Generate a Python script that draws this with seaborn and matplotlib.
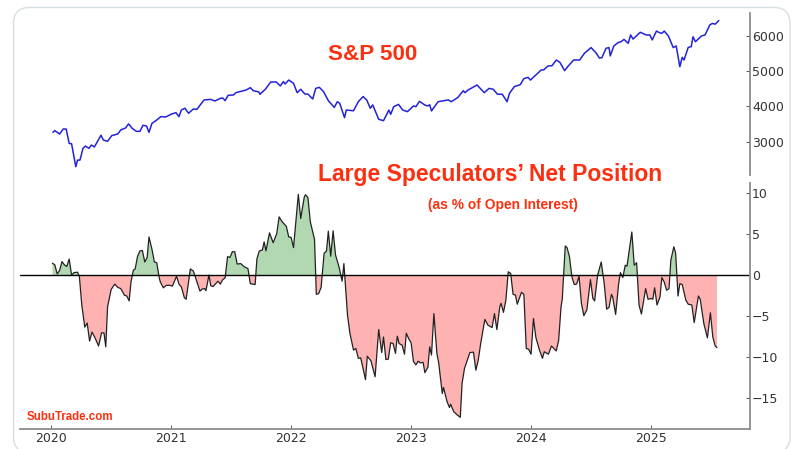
import numpy as np
import matplotlib.pyplot as plt
import seaborn as sns
from matplotlib.patches import FancyBboxPatch
from matplotlib.transforms import Affine2D

# S&P 500 (decimal year, index level)
sp_years = [2020.015, 2020.03, 2020.07, 2020.10, 2020.125, 2020.15, 2020.17, 2020.19, 2020.205, 2020.22,
            2020.24, 2020.265, 2020.285, 2020.315, 2020.335, 2020.36, 2020.415, 2020.435, 2020.47, 2020.505,
            2020.555, 2020.58, 2020.62, 2020.645, 2020.675, 2020.71, 2020.74, 2020.765, 2020.795, 2020.815,
            2020.84, 2020.88, 2020.915, 2020.955, 2021.005, 2021.04, 2021.065, 2021.085, 2021.115, 2021.145,
            2021.185, 2021.215, 2021.24, 2021.275, 2021.33, 2021.365, 2021.41, 2021.43, 2021.45, 2021.475,
            2021.52, 2021.54, 2021.625, 2021.66, 2021.685, 2021.73, 2021.74, 2021.785, 2021.83, 2021.875,
            2021.91, 2021.935, 2021.95, 2021.98, 2022.02, 2022.05, 2022.08, 2022.115, 2022.14, 2022.18,
            2022.205, 2022.235, 2022.27, 2022.31, 2022.36, 2022.385, 2022.405, 2022.445, 2022.46, 2022.52,
            2022.56, 2022.60, 2022.63, 2022.66, 2022.68, 2022.73, 2022.77, 2022.815, 2022.83, 2022.855,
            2022.895, 2022.93, 2022.97, 2023.02, 2023.04, 2023.07, 2023.115, 2023.14, 2023.155, 2023.17,
            2023.225, 2023.31, 2023.335, 2023.39, 2023.435, 2023.45, 2023.475, 2023.55, 2023.61, 2023.65,
            2023.685, 2023.72, 2023.76, 2023.80, 2023.82, 2023.86, 2023.91, 2023.94, 2023.975, 2023.995,
            2024.085, 2024.105, 2024.14, 2024.175, 2024.21, 2024.24, 2024.28, 2024.31, 2024.355, 2024.405,
            2024.445, 2024.50, 2024.54, 2024.57, 2024.59, 2024.625, 2024.65, 2024.66, 2024.69, 2024.725,
            2024.75, 2024.775, 2024.81, 2024.83, 2024.85, 2024.91, 2024.96, 2024.99, 2025.01, 2025.045,
            2025.07, 2025.09, 2025.11, 2025.145, 2025.185, 2025.21, 2025.24, 2025.26, 2025.275, 2025.31,
            2025.335, 2025.35, 2025.37, 2025.42, 2025.45, 2025.49, 2025.51, 2025.535, 2025.565]
sp_values = [3270, 3320, 3225, 3365, 3365, 2960, 2950, 2585, 2305, 2490,
             2490, 2820, 2885, 2820, 2915, 2860, 3190, 3055, 3020, 3180,
             3225, 3340, 3395, 3510, 3385, 3300, 3300, 3470, 3450, 3270,
             3525, 3620, 3715, 3705, 3790, 3825, 3715, 3900, 3950, 3810,
             3930, 3920, 4035, 4185, 4200, 4155, 4230, 4240, 4165, 4315,
             4325, 4390, 4465, 4530, 4445, 4410, 4345, 4485, 4690, 4690,
             4580, 4700, 4635, 4745, 4655, 4390, 4485, 4350, 4350, 4210,
             4510, 4540, 4420, 4165, 3975, 4135, 4090, 3685, 3900, 3880,
             4135, 4280, 4185, 3950, 4045, 3640, 3600, 3900, 3780, 3995,
             4060, 3900, 3855, 4015, 3995, 4145, 4040, 4015, 4050, 3875,
             4135, 4185, 4135, 4255, 4445, 4390, 4465, 4605, 4390, 4510,
             4485, 4345, 4345, 4135, 4370, 4560, 4615, 4785, 4820, 4745,
             5030, 5030, 5140, 5150, 5310, 5245, 5010, 5140, 5310, 5310,
             5500, 5660, 5515, 5365, 5375, 5640, 5660, 5425, 5705, 5800,
             5825, 5890, 5780, 6015, 5900, 6090, 6015, 6015, 5875, 6125,
             6080, 6060, 6125, 5985, 5660, 5705, 5120, 5385, 5310, 5665,
             5685, 5965, 5825, 5985, 6015, 6295, 6340, 6320, 6420]

# large speculators' net position, % of open interest
pos_years = [2020.01, 2020.03, 2020.05, 2020.07, 2020.09, 2020.11, 2020.13, 2020.15, 2020.17, 2020.19,
             2020.22, 2020.235, 2020.255, 2020.28, 2020.30, 2020.32, 2020.34, 2020.365, 2020.395, 2020.42,
             2020.44, 2020.455, 2020.47, 2020.50, 2020.53, 2020.555, 2020.58, 2020.61, 2020.63, 2020.65,
             2020.665, 2020.685, 2020.70, 2020.72, 2020.74, 2020.76, 2020.78, 2020.80, 2020.815, 2020.84,
             2020.86, 2020.88, 2020.90, 2020.91, 2020.935, 2020.96, 2020.99, 2021.01, 2021.045, 2021.065,
             2021.085, 2021.11, 2021.125, 2021.16, 2021.185, 2021.205, 2021.24, 2021.26, 2021.28, 2021.29,
             2021.315, 2021.33, 2021.35, 2021.38, 2021.39, 2021.41, 2021.43, 2021.45, 2021.47, 2021.49,
             2021.51, 2021.53, 2021.55, 2021.58, 2021.61, 2021.64, 2021.66, 2021.70, 2021.715, 2021.735,
             2021.76, 2021.775, 2021.79, 2021.82, 2021.85, 2021.88, 2021.90, 2021.925, 2021.96, 2021.98,
             2022.00, 2022.02, 2022.06, 2022.08, 2022.11, 2022.12, 2022.14, 2022.16, 2022.195, 2022.21,
             2022.23, 2022.25, 2022.275, 2022.295, 2022.31, 2022.33, 2022.35, 2022.37, 2022.40, 2022.425,
             2022.44, 2022.47, 2022.49, 2022.52, 2022.54, 2022.56, 2022.58, 2022.62, 2022.635, 2022.665,
             2022.70, 2022.73, 2022.755, 2022.77, 2022.79, 2022.81, 2022.83, 2022.85, 2022.87, 2022.885,
             2022.90, 2022.925, 2022.945, 2022.96, 2022.98, 2023.00, 2023.02, 2023.04, 2023.06, 2023.075,
             2023.10, 2023.115, 2023.14, 2023.155, 2023.17, 2023.19, 2023.215, 2023.23, 2023.26, 2023.27,
             2023.30, 2023.32, 2023.33, 2023.355, 2023.38, 2023.41, 2023.425, 2023.445, 2023.465, 2023.49,
             2023.52, 2023.54, 2023.56, 2023.58, 2023.615, 2023.64, 2023.675, 2023.695, 2023.715, 2023.74,
             2023.75, 2023.77, 2023.79, 2023.81, 2023.83, 2023.85, 2023.87, 2023.885, 2023.92, 2023.94,
             2023.96, 2023.98, 2024.00, 2024.02, 2024.04, 2024.07, 2024.095, 2024.11, 2024.145, 2024.17,
             2024.21, 2024.23, 2024.25, 2024.26, 2024.285, 2024.30, 2024.32, 2024.34, 2024.36, 2024.38,
             2024.40, 2024.42, 2024.44, 2024.465, 2024.495, 2024.515, 2024.53, 2024.555, 2024.585, 2024.61,
             2024.63, 2024.65, 2024.67, 2024.68, 2024.705, 2024.73, 2024.745, 2024.765, 2024.785, 2024.80,
             2024.84, 2024.86, 2024.88, 2024.90, 2024.92, 2024.955, 2024.975, 2025.00, 2025.015, 2025.03,
             2025.05, 2025.075, 2025.09, 2025.11, 2025.13, 2025.15, 2025.165, 2025.19, 2025.205, 2025.225,
             2025.24, 2025.26, 2025.29, 2025.31, 2025.34, 2025.36, 2025.395, 2025.41, 2025.44, 2025.47,
             2025.495, 2025.515, 2025.535, 2025.55]
pos_values = [1.5, 1.3, 0.2, 0.6, 1.7, 1.3, 1.1, 2.0, 0.05, 0.35,
              0.4, -0.15, -3.6, -6.3, -5.8, -8.0, -6.9, -7.6, -8.6, -7.0,
              -7.0, -8.7, -3.8, -1.7, -1.05, -1.45, -1.6, -2.4, -2.5, -3.1,
              -0.8, 0.65, 0.8, 2.35, 3.0, 3.05, 1.65, 2.2, 4.7, 3.2,
              1.65, 1.55, -0.25, -0.8, -1.5, -1.2, -1.2, -1.3, -0.1, -1.05,
              -1.4, -2.7, -2.9, 0.8, 0.55, -0.35, -1.9, -1.65, -1.6, -1.85,
              0.05, -1.25, -1.35, -0.85, -0.7, -1.05, -0.5, -0.3, 2.3, 2.2,
              2.9, 2.9, 1.4, 1.45, 1.05, 0.85, -1.0, -1.1, 2.05, 3.0,
              3.1, 4.1, 3.0, 5.2, 4.0, 5.1, 7.15, 6.55, 6.0, 4.7,
              4.65, 3.4, 9.9, 6.95, 9.6, 9.85, 9.5, 6.55, 4.4, -2.3,
              -2.2, -1.45, 2.7, 3.0, 5.4, 2.35, 5.45, 2.5, 1.0, -0.7,
              1.45, -4.85, -7.05, -9.1, -8.9, -10.1, -10.05, -12.7, -9.85, -10.4,
              -12.35, -6.6, -9.4, -7.5, -10.25, -10.2, -8.2, -8.3, -9.5, -7.4,
              -8.3, -8.5, -9.6, -7.05, -7.7, -8.2, -10.5, -10.9, -10.45, -10.65,
              -10.6, -11.85, -11.2, -8.7, -9.7, -4.65, -9.5, -10.65, -14.4, -13.65,
              -15.4, -16.1, -15.7, -16.6, -16.95, -17.3, -13.15, -11.35, -10.5, -9.4,
              -9.35, -11.55, -10.3, -8.3, -5.35, -6.05, -6.35, -4.65, -6.6, -3.75,
              -3.4, -4.5, -3.0, 0.45, 0.25, -2.3, -2.4, -3.5, -2.05, -2.3,
              -8.9, -9.0, -9.6, -5.25, -7.55, -9.1, -10.1, -9.3, -9.6, -8.6,
              -9.2, -7.9, -3.8, -2.9, 3.6, 3.4, 2.3, -0.15, -1.1, -1.05,
              -0.1, -3.4, -4.9, -4.2, -0.5, -2.8, -3.1, 0.05, 1.65, -1.0,
              -4.1, -3.9, -2.3, -2.6, -4.75, -1.0, 0.35, -0.25, 1.25, 1.15,
              5.3, 1.25, 1.55, -3.6, -4.7, -1.6, -2.9, -2.8, -2.9, -1.5,
              -3.6, -2.6, -0.25, -0.8, -1.8, -1.6, 1.85, 3.5, 2.75, -2.5,
              -1.0, -1.1, -3.0, -3.5, -3.6, -5.75, -2.5, -2.9, -5.85, -7.6,
              -4.55, -7.5, -8.6, -8.8]

year_ticks = [2020, 2021, 2022, 2023, 2024, 2025]
sp_ticks = [3000, 4000, 5000, 6000]
pos_ticks = [-15, -10, -5, 0, 5, 10]

W, H = 800, 449
RED = '#fa3010'
GREY = '#8c8c8c'

sns.set_theme(style='white')
plt.rcParams['font.family'] = ['DejaVu Sans']

fig = plt.figure(figsize=(W / 100, H / 100), dpi=100)
fig.patch.set_facecolor('white')


def px_axes(left, top, right, bottom):
    """Axes placed by picture pixels"""
    return fig.add_axes([left / W, 1 - bottom / H, (right - left) / W, (bottom - top) / H])


def fx(px):
    return px / W


def fy(px):
    return 1 - px / H


# card outline behind the chart, in pixels with y going down
card = FancyBboxPatch((13.5, 7.5), 776.5, 445, boxstyle='round,pad=0,rounding_size=16',
                      transform=Affine2D().scale(1, -1).translate(0, H), fc='white', ec='#d5dfe3', lw=1, zorder=-5)
fig.add_artist(card)

ax_sp = px_axes(20, 13, 750, 175)
ax_pos = px_axes(20, 183, 750, 428.5)

sns.lineplot(x=sp_years, y=sp_values, ax=ax_sp, color='#2222d8', lw=1.1, estimator=None, errorbar=None)

years = np.array(pos_years)
vals = np.array(pos_values)
ax_pos.fill_between(years, vals, 0, where=vals >= 0, interpolate=True, color='green', alpha=0.3, lw=0)
ax_pos.fill_between(years, vals, 0, where=vals <= 0, interpolate=True, color='red', alpha=0.3, lw=0)
sns.lineplot(x=pos_years, y=pos_values, ax=ax_pos, color='#222222', lw=0.9, estimator=None, errorbar=None)
ax_pos.axhline(0, color='black', lw=1)

for ax in (ax_sp, ax_pos):
    ax.patch.set_alpha(0)
    ax.set_xlim(2019.74, 2025.825)
    ax.yaxis.tick_right()
    ax.set_xlabel('')
    ax.set_ylabel('')
    for side in ('left', 'top'):
        ax.spines[side].set_visible(False)
    ax.spines['right'].set_color(GREY)
    ax.spines['right'].set_linewidth(1.3)
    ax.spines['bottom'].set_color(GREY)
    ax.spines['bottom'].set_linewidth(1.3)
    ax.tick_params(axis='y', direction='in', length=3, width=0.7, color='#555555', labelsize=9,
                   labelcolor='#333333', pad=1.5, right=True)

ax_sp.set_ylim(2070, 6634)
ax_sp.set_yticks(sp_ticks)
ax_sp.spines['bottom'].set_visible(False)
ax_sp.set_xticks([])

ax_pos.set_ylim(-18.66, 11.28)
ax_pos.set_yticks(pos_ticks)
ax_pos.set_yticklabels(['\u221215', '\u221210', '\u22125', '0', '5', '10'])
ax_pos.set_xticks(year_ticks)
ax_pos.tick_params(axis='x', direction='in', length=3, width=0.7, color='#555555', labelsize=9,
                   labelcolor='#333333', pad=2.5, bottom=True)

title_font = ['Liberation Sans', 'DejaVu Sans']
fig.text(fx(373), fy(55), 'S&P 500', color=RED, fontsize=16.1, fontweight='bold', family=title_font,
         ha='center', va='center')
fig.text(fx(490.5), fy(174), 'Large Speculators\u2019 Net Position', color=RED, fontsize=16.45, fontweight='bold',
         family=title_font, ha='center', va='center')
fig.text(fx(502.5), fy(205), '(as % of Open Interest)', color=RED, fontsize=9.9, fontweight='bold',
         family=title_font, ha='center', va='center')
fig.text(fx(27), fy(416.5), 'SubuTrade.com', color=RED, fontsize=8.3, fontweight='bold', family=title_font,
         ha='left', va='center')

fig.savefig('out.png', dpi=100)
